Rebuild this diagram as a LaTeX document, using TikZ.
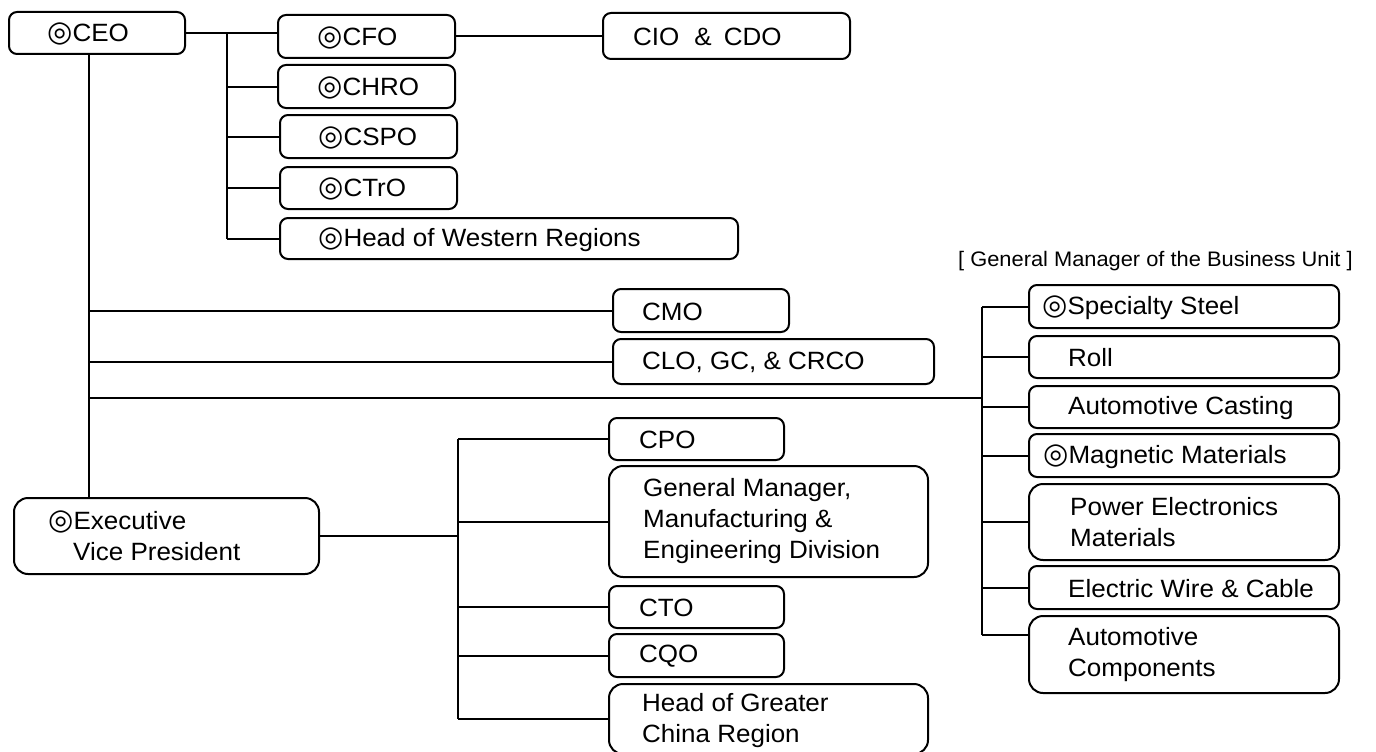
\documentclass[tikz,border=0pt]{standalone}
\usepackage{fontspec}
\setmainfont{Liberation Sans}[FakeStretch=1.04]
\newfontfamily\dvsym{DejaVu Sans}
\newcommand\dmk{{\dvsym\fontsize{29}{31}\selectfont ◎}}
\begin{document}
\begin{tikzpicture}[x=1pt,y=-1pt,
  box/.style={draw, line width=2pt, rounded corners=8pt, anchor=north west, inner sep=0pt},
  bigbox/.style={box, rounded corners=14pt},
  lbl/.style={anchor=west, align=left, inner sep=0pt, font=\fontsize{25}{31}\selectfont},
  conn/.style={line width=2pt}]
\useasboundingbox (0,0) rectangle (1376,752);
% top-left group
\node[box,minimum width=176pt,minimum height=42pt] (ceo) at (8,11) {};
\node[lbl] (ceo-t) at ([xshift=39pt,yshift=-1pt]ceo.west) {\dmk CEO};
\node[box,minimum width=177pt,minimum height=43pt] (cfo) at (277,14) {};
\node[lbl] (cfo-t) at ([xshift=40pt,yshift=-1pt]cfo.west) {\dmk CFO};
\node[box,minimum width=177pt,minimum height=43pt] (chro) at (277,64) {};
\node[lbl] (chro-t) at ([xshift=40pt,yshift=-1pt]chro.west) {\dmk CHRO};
\node[box,minimum width=177pt,minimum height=43pt] (cspo) at (279,114) {};
\node[lbl] (cspo-t) at ([xshift=39pt,yshift=-1pt]cspo.west) {\dmk CSPO};
\node[box,minimum width=177pt,minimum height=42pt] (ctro) at (279,166) {};
\node[lbl] (ctro-t) at ([xshift=39pt,yshift=-1pt]ctro.west) {\dmk CTrO};
\node[box,minimum width=458pt,minimum height=41pt] (west) at (279,217) {};
\node[lbl] (west-t) at ([xshift=39pt,yshift=-1pt]west.west) {\dmk Head of Western Regions};
\node[box,minimum width=247pt,minimum height=46pt] (cio) at (602,12) {};
\node[lbl] (cio-t) at ([xshift=31pt,yshift=-1pt]cio.west) {CIO\hspace{15pt}\&\hspace{12pt}CDO};
% CEO direct
\node[box,minimum width=176pt,minimum height=43pt] (cmo) at (612,288) {};
\node[lbl] (cmo-t) at ([xshift=30pt,yshift=-1pt]cmo.west) {CMO};
\node[box,minimum width=321pt,minimum height=45pt] (clo) at (612,338) {};
\node[lbl] (clo-t) at ([xshift=30pt,yshift=-1pt]clo.west) {CLO, GC, \& CRCO};
% business units
\node[anchor=base west, inner sep=0pt, font=\fontsize{21}{24}\selectfont] (hdr) at (958,266) {[ General Manager of the Business Unit ]};
\node[box,minimum width=310pt,minimum height=43pt] (ss) at (1028,284) {};
\node[lbl] (ss-t) at ([xshift=14pt,yshift=-1pt]ss.west) {\dmk Specialty Steel};
\node[box,minimum width=310pt,minimum height=42pt] (roll) at (1028,335) {};
\node[lbl] (roll-t) at ([xshift=40pt,yshift=-1pt]roll.west) {Roll};
\node[box,minimum width=310pt,minimum height=42pt] (ac) at (1028,385) {};
\node[lbl] (ac-t) at ([xshift=40pt,yshift=-1pt]ac.west) {Automotive Casting};
\node[box,minimum width=310pt,minimum height=43pt] (mm) at (1028,433) {};
\node[lbl] (mm-t) at ([xshift=15pt,yshift=-1pt]mm.west) {\dmk Magnetic Materials};
\node[bigbox,minimum width=310pt,minimum height=76pt] (pe) at (1028,483) {};
\node[lbl] (pe-t) at ([xshift=42pt]pe.west) {Power Electronics\\Materials};
\node[box,minimum width=310pt,minimum height=43pt] (ew) at (1028,565) {};
\node[lbl] (ew-t) at ([xshift=40pt,yshift=-1pt]ew.west) {Electric Wire \& Cable};
\node[bigbox,minimum width=310pt,minimum height=77pt] (acomp) at (1028,615) {};
\node[lbl] (acomp-t) at ([xshift=40pt]acomp.west) {Automotive\\Components};
% EVP group
\node[bigbox,minimum width=305pt,minimum height=76pt] (evp) at (13,497) {};
\node[lbl] (evp-t) at ([xshift=35pt]evp.west) {\dmk Executive\\\hspace*{25pt}Vice President};
\node[box,minimum width=175pt,minimum height=42pt] (cpo) at (608,417) {};
\node[lbl] (cpo-t) at ([xshift=31pt,yshift=-1pt]cpo.west) {CPO};
\node[bigbox,minimum width=319pt,minimum height=111pt] (gm) at (608,465) {};
\node[lbl] (gm-t) at ([xshift=35pt]gm.west) {General Manager,\\Manufacturing \&\\Engineering Division};
\node[box,minimum width=175pt,minimum height=42pt] (cto) at (608,585) {};
\node[lbl] (cto-t) at ([xshift=31pt,yshift=-1pt]cto.west) {CTO};
\node[box,minimum width=175pt,minimum height=43pt] (cqo) at (608,633) {};
\node[lbl] (cqo-t) at ([xshift=31pt,yshift=-1pt]cqo.west) {CQO};
\node[bigbox,minimum width=319pt,minimum height=70pt] (hgc) at (608,683) {};
\node[lbl] (hgc-t) at ([xshift=34pt,yshift=-2pt]hgc.west) {Head of Greater\\China Region};
% connectors
\coordinate (b1) at (227,0);
\coordinate (v0) at (89,0);
\coordinate (bu) at (982,398);
\coordinate (ev) at (458,0);
\draw[conn] (ceo.east) -- (ceo.east -| cfo.west);
\draw[conn] (ceo.east -| b1) -- (west.west -| b1);
\foreach \n in {chro,cspo,ctro,west} \draw[conn] (\n.west -| b1) -- (\n.west);
\draw[conn] (cfo.east) -- (cfo.east -| cio.west);
\draw[conn] (ceo.south -| v0) -- (evp.north -| v0);
\draw[conn] (cmo.west -| v0) -- (cmo.west);
\draw[conn] (clo.west -| v0) -- (clo.west);
\draw[conn] (bu -| v0) -- (bu);
\draw[conn] (ss.west -| bu) -- ([yshift=20pt]acomp.west -| bu);
\foreach \n in {ss,roll,ac,mm,pe,ew} \draw[conn] (\n.west -| bu) -- (\n.west);
\draw[conn] ([yshift=20pt]acomp.west -| bu) -- ([yshift=20pt]acomp.west);
\draw[conn] (evp.east) -- (evp.east -| ev);
\draw[conn] (cpo.west -| ev) -- (hgc.west -| ev);
\foreach \n in {cpo,gm,cto,cqo,hgc} \draw[conn] (\n.west -| ev) -- (\n.west);
\end{tikzpicture}
\end{document}
